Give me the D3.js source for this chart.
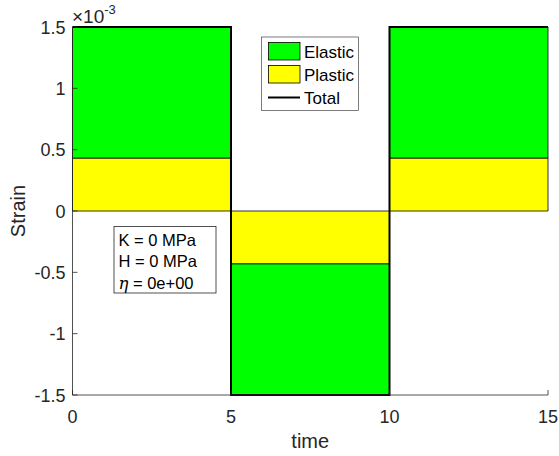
<!DOCTYPE html>
<html><head><meta charset="utf-8">
<script src="https://cdn.jsdelivr.net/npm/d3@7/dist/d3.min.js"></script>
<style>body{margin:0;background:#fff}svg{display:block;font-family:"Liberation Sans",Arial,sans-serif}</style>
</head><body><svg id="c" width="559" height="456"></svg>
<script>
const time    = [0, 5, 5, 10, 10, 15];
const elastic = [1.07e-3, 1.07e-3, -1.07e-3, -1.07e-3, 1.07e-3, 1.07e-3];
const plastic = [0.43e-3, 0.43e-3, -0.43e-3, -0.43e-3, 0.43e-3, 0.43e-3];
const total   = [1.5e-3, 1.5e-3, -1.5e-3, -1.5e-3, 1.5e-3, 1.5e-3];
const xTicks = [0, 5, 10, 15];
const yTicks = [-1.5e-3, -1e-3, -0.5e-3, 0, 0.5e-3, 1e-3, 1.5e-3];
const yTickLabels = ["-1.5", "-1", "-0.5", "0", "0.5", "1", "1.5"];
const legendLabels = ["Elastic", "Plastic", "Total"];
const annot = ["K = 0 MPa", "H = 0 MPa", "η = 0e+00"];

const svg = d3.select("#c");
const L = 72.5, R = 548, T = 27, B = 395;
const x = d3.scaleLinear().domain([0, 15]).range([L, R]);
const y = d3.scaleLinear().domain([-1.5e-3, 1.5e-3]).range([B, T]);
const idx = d3.range(time.length);

const areaEl = d3.area().x(i => x(time[i])).y0(i => y(plastic[i])).y1(i => y(plastic[i] + elastic[i]));
const areaPl = d3.area().x(i => x(time[i])).y0(i => y(0)).y1(i => y(plastic[i]));

svg.append("path").attr("d", areaEl(idx)).attr("fill", "#00ff00").attr("stroke", "#000").attr("stroke-width", 0.8);
svg.append("path").attr("d", areaPl(idx)).attr("fill", "#ffff00").attr("stroke", "#000").attr("stroke-width", 0.8);

svg.append("path").attr("d", d3.line().x(i => x(time[i])).y(i => y(total[i]))(idx))
  .attr("fill", "none").attr("stroke", "#000").attr("stroke-width", 2);

// axes
const ax = svg.append("g").attr("stroke", "#262626").attr("fill", "none");
ax.append("line").attr("x1", L).attr("x2", L).attr("y1", T).attr("y2", B).attr("stroke-width", 0.8);
ax.append("line").attr("x1", L).attr("x2", R).attr("y1", B).attr("y2", B).attr("stroke-width", 0.8);
xTicks.forEach(t => ax.append("line").attr("x1", x(t)).attr("x2", x(t)).attr("y1", B).attr("y2", B - 5).attr("stroke-width", 0.8));
yTicks.forEach(t => ax.append("line").attr("x1", L).attr("x2", L + 5).attr("y1", y(t)).attr("y2", y(t)).attr("stroke-width", 0.8));

const tc = "#262626";
xTicks.forEach(t => svg.append("text").attr("x", x(t)).attr("y", 423).attr("text-anchor", "middle")
  .attr("font-size", 18).attr("fill", tc).text(t));
yTicks.forEach((t, i) => svg.append("text").attr("x", 65.5).attr("y", y(t) + 6.5).attr("text-anchor", "end")
  .attr("font-size", 18).attr("fill", tc).text(yTickLabels[i]));
const ex = svg.append("text").attr("x", 72).attr("y", 23).attr("font-size", 19).attr("fill", tc);
ex.append("tspan").text("×10");
ex.append("tspan").attr("dy", -9).attr("font-size", 13).text("-3");

svg.append("text").attr("x", x(7.5)).attr("y", 448).attr("text-anchor", "middle").attr("font-size", 20).attr("fill", tc).text("time");
svg.append("text").attr("transform", "translate(25," + y(0) + ") rotate(-90)").attr("text-anchor", "middle")
  .attr("font-size", 20).attr("fill", tc).text("Strain");

// legend
const lg = svg.append("g");
lg.append("rect").attr("x", 261.5).attr("y", 37).attr("width", 97).attr("height", 73.5).attr("fill", "#fff").attr("stroke", "#262626").attr("stroke-width", 0.6);
const lcol = ["#00ff00", "#ffff00"];
[0, 1].forEach(i => lg.append("rect").attr("x", 268.5).attr("y", 42.5 + i * 23).attr("width", 31.5).attr("height", 17.5)
  .attr("fill", lcol[i]).attr("stroke", "#000").attr("stroke-width", 0.8));
lg.append("line").attr("x1", 268).attr("x2", 300).attr("y1", 97.5).attr("y2", 97.5).attr("stroke", "#000").attr("stroke-width", 2);
legendLabels.forEach((s, i) => lg.append("text").attr("x", 304).attr("y", 57.5 + i * 23).attr("font-size", 17).attr("fill", "#000").text(s));

// annotation
const an = svg.append("g");
an.append("rect").attr("x", 114).attr("y", 226.5).attr("width", 102).attr("height", 66.5).attr("fill", "#fff").attr("stroke", "#262626").attr("stroke-width", 0.8);
annot.forEach((s, i) => {
  const t = an.append("text").attr("x", 118.5).attr("y", 245.5 + i * 21.5).attr("font-size", 16.5).attr("fill", "#000");
  if (s.startsWith("η")) {
    t.append("tspan").attr("font-style", "italic").attr("font-family", "'DejaVu Serif',serif").text("η");
    t.append("tspan").text(s.slice(1));
  } else t.text(s);
});
</script></body></html>
